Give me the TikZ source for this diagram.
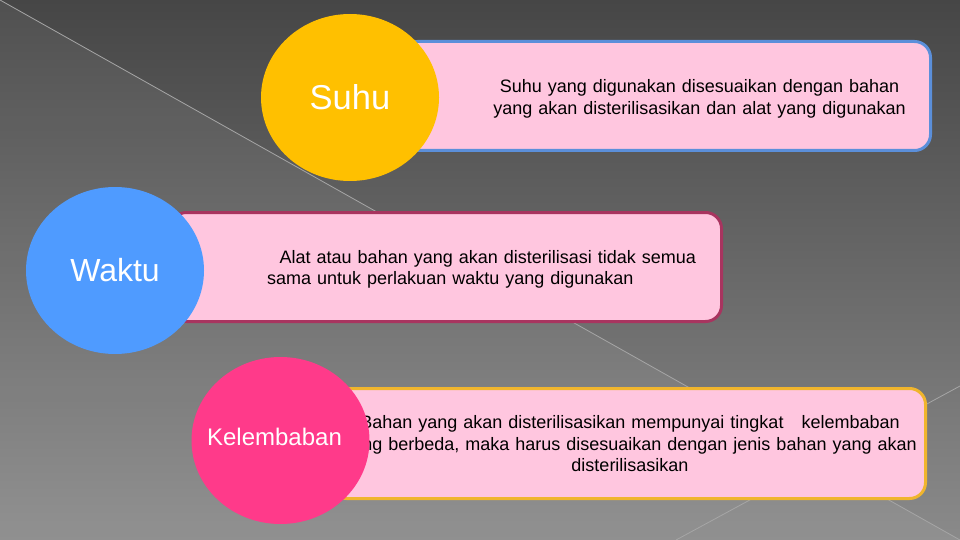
\documentclass[tikz,border=0pt]{standalone}
\usepackage{fontspec}
\setmainfont{Liberation Sans}
\usetikzlibrary{shapes.geometric}
\definecolor{bgtop}{HTML}{464646}
\definecolor{bgbot}{HTML}{8A8A8A}
\definecolor{gold}{HTML}{FFC000}
\definecolor{skyblue}{HTML}{4F9BFF}
\definecolor{hotpink}{HTML}{FF3A8A}
\definecolor{boxpink}{HTML}{FFC6DF}
\definecolor{edgeblue}{HTML}{5B8FDA}
\definecolor{edgemaroon}{HTML}{A8345F}
\definecolor{edgegold}{HTML}{F0B52D}
\definecolor{bgline}{HTML}{A6A6A6}
\begin{document}
\begin{tikzpicture}[x=1pt,y=-1pt,
  blob/.style={ellipse, minimum width=178pt, minimum height=167pt, inner sep=0pt, text=white},
  infobox/.style={rectangle, fill=boxpink, line width=3pt, rounded corners=16pt, minimum height=109pt, inner sep=0pt},
  body/.style={font=\fontsize{18}{21.6}\selectfont, inner sep=0pt, text=black},
  bigtext/.style={font=\fontsize{32}{38}\selectfont},
  bgstroke/.style={draw=bgline, line width=0.8pt},
]
\useasboundingbox (0,0) rectangle (960,540);
\shade[top color=bgtop, bottom color=bgbot] (0,0) rectangle (960,540);
\fill[white, opacity=0.06] (0,0) -- (960,540) -- (0,540) -- cycle;
\coordinate (d1) at (0,0);
\coordinate (d2) at (960,540);
\coordinate (e1) at (960,386);
\coordinate (e2) at (676,540);
\draw[bgstroke] (d1) -- (d2);
\draw[bgstroke] (e1) -- (e2);

\node[infobox, draw=edgeblue, minimum width=529pt] (sbox) at (666,96) {};
\node[infobox, draw=edgemaroon, minimum width=551pt] (wbox) at (446,267) {};
\node[infobox, draw=edgegold, minimum width=595pt, minimum height=110pt] (kbox) at (628,443.5) {};

\node[body, text width=520pt, align=center, anchor=base] (stext) at (699.5,93)
  {Suhu yang digunakan disesuaikan dengan bahan\\ yang akan disterilisasikan dan alat yang digunakan};
\node[body, text width=460pt, align=left, anchor=base west] (wtext) at (267,263)
  {\hspace*{12.5pt}Alat atau bahan yang akan disterilisasi tidak semua\\ sama untuk perlakuan waktu yang digunakan};
\node[body, text width=600pt, align=center, anchor=base] (ktext) at (630,428.5)
  {Bahan yang akan disterilisasikan mempunyai tingkat~~~kelembaban\\ yang berbeda, maka harus disesuaikan dengan jenis bahan yang akan\\ disterilisasikan};

\node[blob, fill=gold, font=\fontsize{34.5}{40}\selectfont] (suhu) at (350,97.5) {Suhu};
\node[blob, fill=skyblue, bigtext] (waktu) at (115,270.5) {Waktu};
\node[blob, fill=hotpink] (kel) at (280.5,440.5) {};
\node[text=white, font=\fontsize{24}{29}\selectfont, inner sep=0pt] (keltext) at ([xshift=-6pt,yshift=3.5pt]kel.center) {Kelembaban};
\end{tikzpicture}
\end{document}
